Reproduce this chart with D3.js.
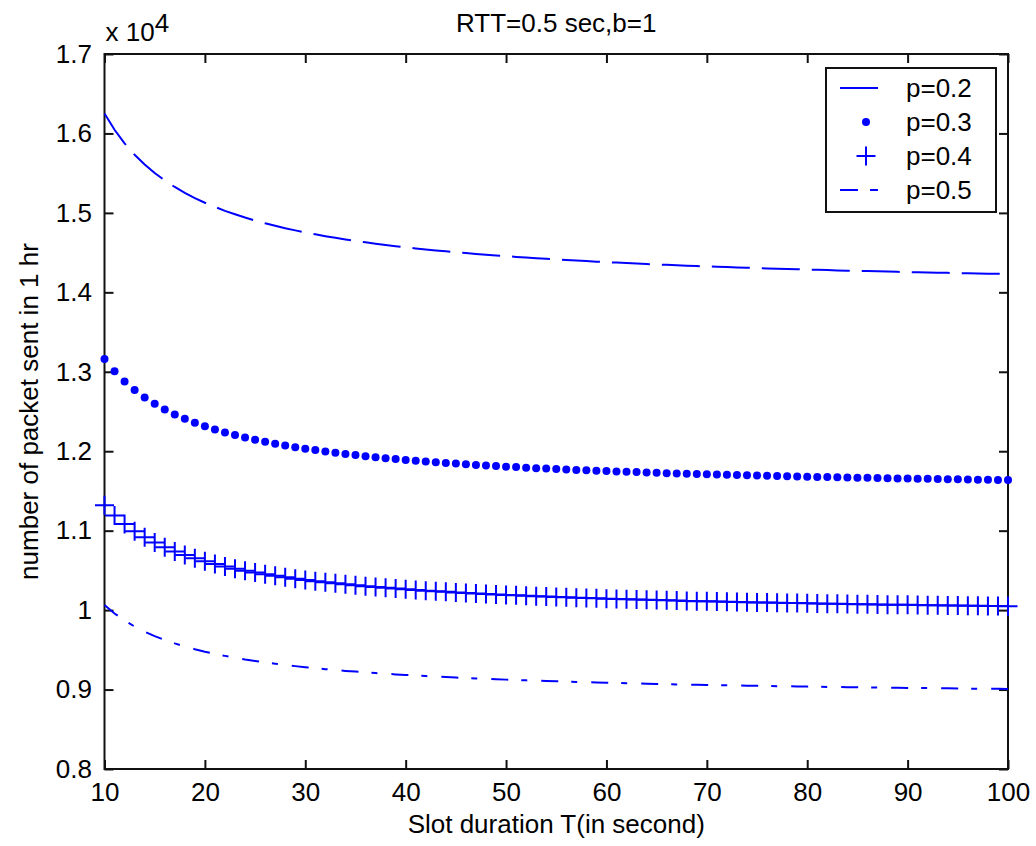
<!DOCTYPE html>
<html>
<head>
<meta charset="utf-8">
<script src="https://cdn.jsdelivr.net/npm/d3@7"></script>
<style>
  body { margin: 0; background: #fff; }
  text { font-family: "Liberation Sans", Arial, sans-serif; fill: #000; }
</style>
</head>
<body>
<script>
// slot duration T (sec), one point per second
const slotT = d3.range(10, 101);

// number of packets sent in 1 hr
const p02 = [16250,16046,15876,15732,15609,15502,15409,15326,15253,15187,
  15128,15075,15026,14982,14941,14904,14869,14837,14807,14780,
  14754,14730,14707,14686,14666,14647,14629,14612,14597,14581,
  14567,14553,14540,14528,14516,14505,14494,14483,14474,14464,
  14455,14446,14438,14429,14422,14414,14407,14400,14393,14386,
  14380,14374,14368,14362,14357,14351,14346,14341,14336,14331,
  14327,14322,14318,14313,14309,14305,14301,14297,14294,14290,
  14287,14283,14280,14276,14273,14270,14267,14264,14261,14258,
  14255,14253,14250,14247,14245,14242,14240,14237,14235,14233,14230];

const p03 = [13160,13006,12878,12770,12677,12596,12526,12463,12408,12359,
  12314,12274,12237,12204,12173,12145,12119,12095,12072,12051,
  12032,12014,11997,11981,11966,11951,11938,11925,11913,11902,
  11891,11881,11871,11862,11853,11844,11836,11828,11821,11813,
  11806,11800,11793,11787,11781,11776,11770,11765,11760,11755,
  11750,11745,11741,11737,11732,11728,11724,11721,11717,11713,
  11710,11706,11703,11700,11697,11694,11691,11688,11685,11682,
  11680,11677,11674,11672,11669,11667,11665,11662,11660,11658,
  11656,11654,11652,11650,11648,11646,11644,11642,11641,11639,11637];

const p04 = [11320,11192,11085,10994,10917,10850,10791,10739,10693,10652,
  10615,10581,10550,10522,10497,10473,10452,10432,10413,10396,
  10379,10364,10350,10337,10324,10312,10301,10290,10280,10271,
  10262,10253,10245,10237,10230,10223,10216,10209,10203,10197,
  10191,10186,10180,10175,10170,10165,10161,10156,10152,10148,
  10144,10140,10137,10133,10129,10126,10123,10120,10116,10113,
  10111,10108,10105,10102,10100,10097,10095,10092,10090,10088,
  10085,10083,10081,10079,10077,10075,10073,10071,10069,10068,
  10066,10064,10062,10061,10059,10058,10056,10054,10053,10051,10050];

const p05 = [10064,9958,9869,9793,9729,9673,9624,9581,9542,9508,
  9477,9449,9424,9401,9379,9360,9342,9325,9309,9295,
  9281,9269,9257,9246,9235,9226,9216,9207,9199,9191,
  9184,9176,9170,9163,9157,9151,9145,9140,9135,9130,
  9125,9120,9116,9112,9108,9104,9100,9096,9093,9089,
  9086,9083,9079,9076,9074,9071,9068,9065,9063,9060,
  9058,9055,9053,9051,9049,9047,9045,9043,9041,9039,
  9037,9035,9033,9032,9030,9028,9027,9025,9024,9022,
  9021,9019,9018,9016,9015,9014,9012,9011,9010,9009,9007];

const seriesNames = ["p=0.2", "p=0.3", "p=0.4", "p=0.5"];
const xTicks = [10, 20, 30, 40, 50, 60, 70, 80, 90, 100];
const yTicks = [8000, 9000, 10000, 11000, 12000, 13000, 14000, 15000, 16000, 17000];

const W = 1036, H = 846;
const plotL = 104.5, plotR = 1008, plotT = 54, plotB = 769;
const blue = "#0000ff";

const svg = d3.select("body").append("svg")
  .attr("width", W)
  .attr("height", H);

const x = d3.scaleLinear().domain([10, 100]).range([plotL, plotR]);
const y = d3.scaleLinear().domain([8000, 17000]).range([plotB, plotT]);

// axes, ticks point inwards like matlab
function styleAxis(g) {
  g.select(".domain").remove();
  g.selectAll("line").attr("stroke", "#111").attr("stroke-width", 2);
  g.selectAll("text").attr("font-size", 26).attr("font-family", "Liberation Sans, Arial, sans-serif");
}

svg.append("g")
  .attr("transform", `translate(0,${plotB})`)
  .call(d3.axisBottom(x).tickValues(xTicks).tickSizeInner(-9).tickSizeOuter(0).tickPadding(13.5))
  .call(styleAxis);

svg.append("g")
  .attr("transform", `translate(0,${plotT})`)
  .call(d3.axisTop(x).tickValues(xTicks).tickSizeInner(-9).tickSizeOuter(0).tickFormat(""))
  .call(styleAxis);

svg.append("g")
  .attr("transform", `translate(${plotL},0)`)
  .call(d3.axisLeft(y).tickValues(yTicks).tickSizeInner(-9).tickSizeOuter(0).tickPadding(12.5)
    .tickFormat(d => d / 10000))
  .call(styleAxis);

svg.append("g")
  .attr("transform", `translate(${plotR},0)`)
  .call(d3.axisRight(y).tickValues(yTicks).tickSizeInner(-9).tickSizeOuter(0).tickFormat(""))
  .call(styleAxis);

svg.append("rect")
  .attr("x", plotL).attr("y", plotT)
  .attr("width", plotR - plotL).attr("height", plotB - plotT)
  .attr("fill", "none").attr("stroke", "#111").attr("stroke-width", 2);

// exponent label
const expo = svg.append("text").attr("x", plotL + 1).attr("y", 41).attr("font-size", 26);
expo.append("tspan").text("x 10");
expo.append("tspan").attr("dy", -9).text("4");

// title + axis labels
svg.append("text")
  .attr("x", (plotL + plotR) / 2).attr("y", 32)
  .attr("text-anchor", "middle").attr("font-size", 26)
  .text("RTT=0.5 sec,b=1");

svg.append("text")
  .attr("x", (plotL + plotR) / 2).attr("y", 833)
  .attr("text-anchor", "middle").attr("font-size", 26)
  .text("Slot duration T(in second)");

svg.append("text")
  .attr("transform", `translate(38,${(plotT + plotB) / 2}) rotate(-90)`)
  .attr("text-anchor", "middle").attr("font-size", 26)
  .text("number of packet sent in 1 hr");

const line = d3.line()
  .x((d, i) => x(slotT[i]))
  .y(d => y(d));

// p=0.2 dashed
svg.append("path")
  .datum(p02)
  .attr("d", line)
  .attr("fill", "none").attr("stroke", blue).attr("stroke-width", 2)
  .attr("stroke-dasharray", "38,12");

// p=0.3 dots
svg.append("g").selectAll("circle")
  .data(p03)
  .enter()
  .append("circle")
    .attr("cx", (d, i) => x(slotT[i]))
    .attr("cy", d => y(d))
    .attr("r", 4)
    .attr("fill", blue);

// p=0.4 plus markers
function plusPath(cx, cy, s) {
  return `M${cx - s},${cy}H${cx + s}M${cx},${cy - s}V${cy + s}`;
}
svg.append("g").selectAll("path")
  .data(p04)
  .enter()
  .append("path")
    .attr("d", (d, i) => plusPath(x(slotT[i]), y(d), 9.5))
    .attr("stroke", blue).attr("stroke-width", 2).attr("fill", "none");

// p=0.5 dash-dot
svg.append("path")
  .datum(p05)
  .attr("d", line)
  .attr("fill", "none").attr("stroke", blue).attr("stroke-width", 2)
  .attr("stroke-dasharray", "17,13,6,14");

// legend
const lg = svg.append("g");
lg.append("rect")
  .attr("x", 826).attr("y", 68).attr("width", 170).attr("height", 144)
  .attr("fill", "#fff").attr("stroke", "#111").attr("stroke-width", 2);

seriesNames.forEach((name, i) => {
  const ly = 88 + i * 34;
  if (i == 0) {
    lg.append("line").attr("x1", 840).attr("x2", 878).attr("y1", ly).attr("y2", ly)
      .attr("stroke", blue).attr("stroke-width", 2);
  } else if (i == 1) {
    lg.append("circle").attr("cx", 866).attr("cy", ly).attr("r", 4).attr("fill", blue);
  } else if (i == 2) {
    lg.append("path").attr("d", plusPath(866, ly, 9.5)).attr("stroke", blue).attr("stroke-width", 2);
  } else {
    lg.append("line").attr("x1", 840).attr("x2", 878).attr("y1", ly).attr("y2", ly)
      .attr("stroke", blue).attr("stroke-width", 2).attr("stroke-dasharray", "18,12,8,20");
  }
  lg.append("text")
    .attr("x", 906).attr("y", ly).attr("dy", "0.35em")
    .attr("font-size", 26)
    .text(name);
});
</script>
</body>
</html>
